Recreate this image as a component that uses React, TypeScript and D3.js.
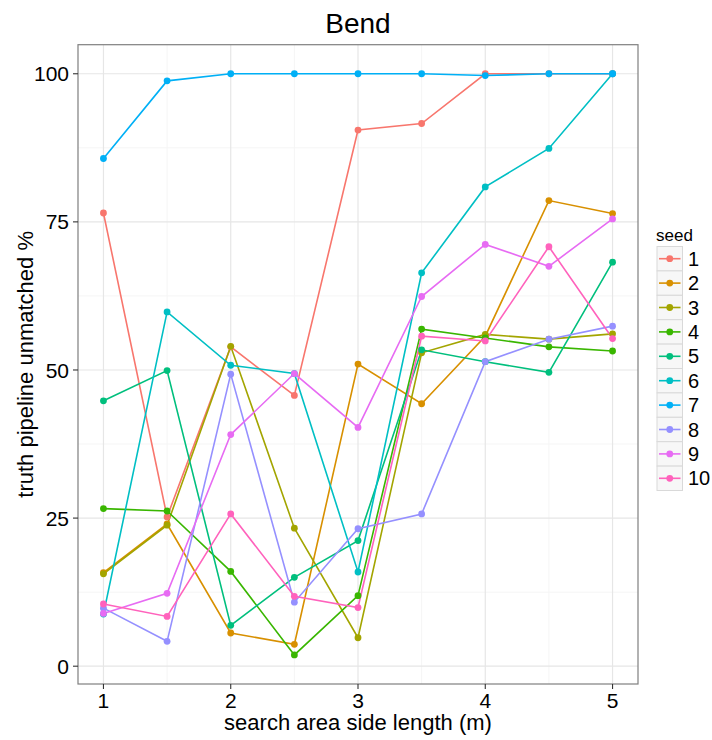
import React from 'react';
import * as d3 from 'd3';

// search area side length (m)
const sideLengths = [1, 1.5, 2, 2.5, 3, 3.5, 4, 4.5, 5];
const seeds = ['1', '2', '3', '4', '5', '6', '7', '8', '9', '10'];
const seedColors = ['#F8766D', '#D89000', '#A3A500', '#39B600', '#00BF7D', '#00BFC4', '#00B0F6', '#9590FF', '#E76BF3', '#FF62BC'];

const seed1 = [76.5, 25.2, 53.9, 45.7, 90.5, 91.6, 100, 100, 100];
const seed2 = [15.8, 24.0, 5.6, 3.7, 51.0, 44.3, 55.7, 78.6, 76.4];
const seed3 = [15.6, 23.8, 54.0, 23.3, 4.8, 52.9, 56.0, 55.2, 56.1];
const seed4 = [26.6, 26.2, 16.0, 1.9, 11.9, 56.9, 55.4, 53.9, 53.2];
const seed5 = [44.8, 49.9, 6.9, 15.0, 21.2, 53.4, 51.4, 49.6, 68.2];
const seed6 = [8.8, 59.8, 50.8, 49.4, 15.9, 66.4, 80.9, 87.4, 100];
const seed7 = [85.7, 98.8, 100, 100, 100, 100, 99.7, 100, 100];
const seed8 = [9.8, 4.2, 49.3, 10.8, 23.2, 25.7, 51.4, 55.2, 57.4];
const seed9 = [8.9, 12.3, 39.1, 49.4, 40.3, 62.4, 71.2, 67.5, 75.5];
const seed10 = [10.5, 8.4, 25.7, 11.8, 9.9, 55.7, 54.9, 70.8, 55.3];

const seriesValues = [seed1, seed2, seed3, seed4, seed5, seed6, seed7, seed8, seed9, seed10];

const xTicks = [1, 2, 3, 4, 5];
const yTicks = [0, 25, 50, 75, 100];

const width = 712;
const height = 740;
const margin = { left: 78, right: 74, top: 44.7, bottom: 56 };
const font = 'Liberation Sans, Arial, sans-serif';

export default function App() {
  const pw = width - margin.left - margin.right;
  const ph = height - margin.top - margin.bottom;

  const allY = seriesValues.flat();
  const yMin = d3.min(allY) as number;
  const yMax = d3.max(allY) as number;
  const yPad = (yMax - yMin) * 0.05;
  const xPad = (5 - 1) * 0.05;

  const x = d3.scaleLinear().domain([1 - xPad, 5 + xPad]).range([0, pw]);
  const y = d3.scaleLinear().domain([yMin - yPad, yMax + yPad]).range([ph, 0]);

  const xMinor = d3.range(1.5, 5, 1);
  const yMinor = [12.5, 37.5, 62.5, 87.5];

  const line = d3.line<number>()
    .x((d, i) => x(sideLengths[i]))
    .y(d => y(d));

  const keyH = 24.4;
  const legendX = 657;
  const legendY = 246.5;

  return (
    <svg width={width} height={height} style={{ position: 'absolute', left: 0, top: 0 }}>
      <rect width={width} height={height} fill="#fff" />
      <text x={margin.left + pw / 2} y={33} textAnchor="middle" fontFamily={font} fontSize={28}>Bend</text>
      <g transform={`translate(${margin.left},${margin.top})`}>
        <rect width={pw} height={ph} fill="#fff" />
        {xMinor.map(v => <line key={'xm' + v} x1={x(v)} x2={x(v)} y1={0} y2={ph} stroke="#f5f5f5" strokeWidth={1} />)}
        {yMinor.map(v => <line key={'ym' + v} x1={0} x2={pw} y1={y(v)} y2={y(v)} stroke="#f5f5f5" strokeWidth={1} />)}
        {xTicks.map(v => <line key={'xg' + v} x1={x(v)} x2={x(v)} y1={0} y2={ph} stroke="#e6e6e6" strokeWidth={1.2} />)}
        {yTicks.map(v => <line key={'yg' + v} x1={0} x2={pw} y1={y(v)} y2={y(v)} stroke="#e6e6e6" strokeWidth={1.2} />)}
        {seriesValues.map((vals, i) => (
          <path key={'l' + i} d={line(vals) || ''} fill="none" stroke={seedColors[i]} strokeWidth={1.6} />
        ))}
        {seriesValues.map((vals, i) => vals.map((v, j) => (
          <circle key={'p' + i + '-' + j} cx={x(sideLengths[j])} cy={y(v)} r={3.4} fill={seedColors[i]} />
        )))}
        <rect width={pw} height={ph} fill="none" stroke="#7f7f7f" strokeWidth={1.2} />
        {yTicks.map(v => (
          <g key={'yt' + v} transform={`translate(0,${y(v)})`}>
            <line x1={-5} x2={0} stroke="#333" strokeWidth={1.1} />
            <text x={-9} dy="0.36em" textAnchor="end" fontFamily={font} fontSize={21} fill="#000">{v}</text>
          </g>
        ))}
        {xTicks.map(v => (
          <g key={'xt' + v} transform={`translate(${x(v)},${ph})`}>
            <line y1={0} y2={5} stroke="#333" strokeWidth={1.1} />
            <text y={24} textAnchor="middle" fontFamily={font} fontSize={21} fill="#000">{v}</text>
          </g>
        ))}
      </g>
      <text x={margin.left + pw / 2} y={730} textAnchor="middle" fontFamily={font} fontSize={22}>search area side length (m)</text>
      <text transform={`translate(33,${margin.top + ph / 2}) rotate(-90)`} textAnchor="middle" fontFamily={font} fontSize={22}>truth pipeline unmatched %</text>
      <text x={legendX - 1} y={241} fontFamily={font} fontSize={17}>seed</text>
      {seeds.map((s, i) => (
        <g key={'lg' + s} transform={`translate(${legendX},${legendY + i * keyH})`}>
          <rect width={25.5} height={keyH} fill="#f7f7f7" stroke="#d9d9d9" strokeWidth={1} />
          <line x1={2} x2={23.5} y1={keyH / 2} y2={keyH / 2} stroke={seedColors[i]} strokeWidth={1.6} />
          <circle cx={12.75} cy={keyH / 2} r={3.4} fill={seedColors[i]} />
          <text x={31} y={keyH / 2} dy="0.36em" fontFamily={font} fontSize={20}>{s}</text>
        </g>
      ))}
    </svg>
  );
}
